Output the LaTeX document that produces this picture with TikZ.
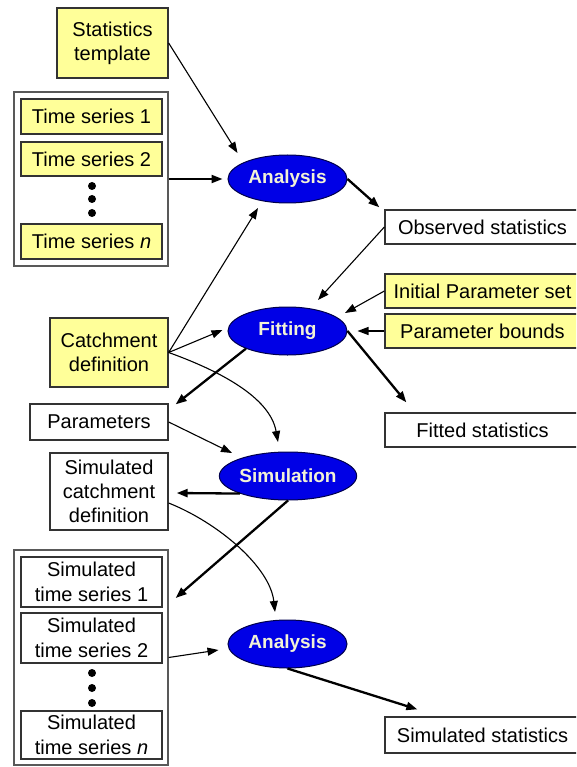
\documentclass[tikz,border=0pt]{standalone}
\usepackage{fontspec}
\setmainfont{Liberation Sans}
\usetikzlibrary{arrows.meta,calc,shapes.geometric}
\definecolor{boxyellow}{HTML}{FFFF99}
\definecolor{ellblue}{HTML}{0000E6}
\definecolor{elltext}{HTML}{F2F2D6}
\definecolor{edge}{HTML}{333333}
\begin{document}
\begin{tikzpicture}[x=1pt,y=-1pt,
  font=\fontsize{20}{24}\selectfont,
  box/.style={draw=edge, line width=1.3pt, fill=white, inner sep=0pt, align=center},
  ybox/.style={box, fill=boxyellow},
  outer/.style={draw=black!65, line width=1.3pt, inner sep=0pt},
  proc/.style={ellipse, draw=black!70!blue, line width=1pt, fill=ellblue, text=elltext,
    font=\fontsize{19}{23}\selectfont\bfseries, minimum width=119pt, minimum height=48pt, inner sep=0pt},
  dot/.style={circle, fill=black, inner sep=0pt, minimum size=8pt},
  thinarr/.style={line width=1.1pt, -{Triangle[length=11pt,width=8pt]}},
  thickarr/.style={line width=2.3pt, -{Triangle[length=11pt,width=8pt]}}]
\useasboundingbox (0,0) rectangle (576,767);
\clip (0,0) rectangle (576,767);

% left column, top
\node[ybox, minimum width=111pt, minimum height=70pt] (st) at (112.5,43) {Statistics\\template};
\node[outer, minimum width=154pt, minimum height=174pt] (tsbox) at (91,179) {};
\node[ybox, minimum width=141pt, minimum height=35pt] (ts1) at (91.5,116.5) {Time series 1};
\node[ybox, minimum width=141pt, minimum height=34pt] (ts2) at (91.5,159) {Time series 2};
\node[ybox, minimum width=141pt, minimum height=35pt] (tsn) at (91.5,241.5) {Time series \textit{n}};
\node[dot] (d1) at (92,186) {};
\node[dot] (d2) at (92,199) {};
\node[dot] (d3) at (92,213) {};

% processes
\node[proc] (an1) at (287.5,179) {Analysis};
\node[proc] (fit) at (287.5,331) {Fitting};
\node[proc] (sim) at (288,476) {Simulation};
\node[proc] (an2) at (287.5,644) {Analysis};

% right column
\node[box, minimum width=195pt, minimum height=34pt] (obs) at (482.5,227) {Observed statistics};
\node[ybox, minimum width=195pt, minimum height=34pt] (init) at (482.5,291) {Initial Parameter set};
\node[ybox, minimum width=195pt, minimum height=34pt] (bounds) at (482.5,331) {Parameter bounds};
\node[box, minimum width=195pt, minimum height=34pt] (fitted) at (482.5,430) {Fitted statistics};
\node[box, minimum width=195pt, minimum height=36pt] (simstat) at (482.5,735) {Simulated statistics};

% left column, middle and bottom
\node[ybox, minimum width=118pt, minimum height=69pt] (catch) at (109,352.5) {Catchment\\definition};
\node[box, minimum width=138pt, minimum height=36pt] (params) at (99,422) {Parameters};
\node[box, minimum width=118pt, minimum height=77pt] (simcatch) at (109,491.5) {Simulated\\catchment\\definition};
\node[outer, minimum width=154pt, minimum height=215pt] (stsbox) at (91,657.5) {};
\node[box, minimum width=141pt, minimum height=50pt] (sts1) at (91.5,582) {Simulated\\[1pt]time series 1};
\node[box, minimum width=141pt, minimum height=50pt] (sts2) at (91.5,638) {Simulated\\[1pt]time series 2};
\node[box, minimum width=141pt, minimum height=48pt] (stsn) at (91.5,735) {Simulated\\[1pt]time series \textit{n}};
\node[dot] (e1) at (92,673) {};
\node[dot] (e2) at (92,688) {};
\node[dot] (e3) at (92,703) {};

% connectors
\draw[thinarr] (st.east) -- ($(an1.center)+(-50,-26)$);
\draw[thinarr, line width=2pt] (tsbox.east) -- ($(an1.west)+(-5,0)$);
\draw[thickarr] (an1.east) -- ($(obs.north west)+(-5,-2)$);
\draw[thinarr] (catch.east) -- ($(an1.center)+(-29.5,29)$);
\draw[thinarr] (catch.east) -- ($(fit.west)+(-5,-1)$);
\draw[thinarr] (catch.east) .. controls +(50,18) and +(-8,-45) .. ($(sim.center)+(-10,-34)$);
\draw[thinarr] (obs.west) -- ($(fit.center)+(30.5,-31)$);
\draw[thinarr] (init.west) -- ($(fit.center)+(57.5,-18)$);
\draw[thinarr] (bounds.west) -- ($(fit.east)+(10,0)$);
\draw[thickarr] (fit.east) -- ($(fitted.north west)+(22,-10)$);
\draw[thickarr] (fit.203) -- ($(params.north east)+(7,1)$);
\draw[thinarr] (params.east) -- ($(sim.center)+(-56,-23)$);
\draw[thickarr] (sim.200) -- ($(simcatch.east)+(8,1.5)$);
\draw[thickarr] (sim.south) -- ($(sts1.east)+(13,16)$);
\draw[thinarr] ($(simcatch.east)+(0,11.5)$) .. controls +(50,20) and +(-5,-45) .. ($(an2.center)+(-12.5,-32)$);
\draw[thinarr] (stsbox.east) -- ($(an2.west)+(-9,6)$);
\draw[thickarr] (an2.south) -- ($(simstat.north west)+(33,-7)$);
\end{tikzpicture}
\end{document}
